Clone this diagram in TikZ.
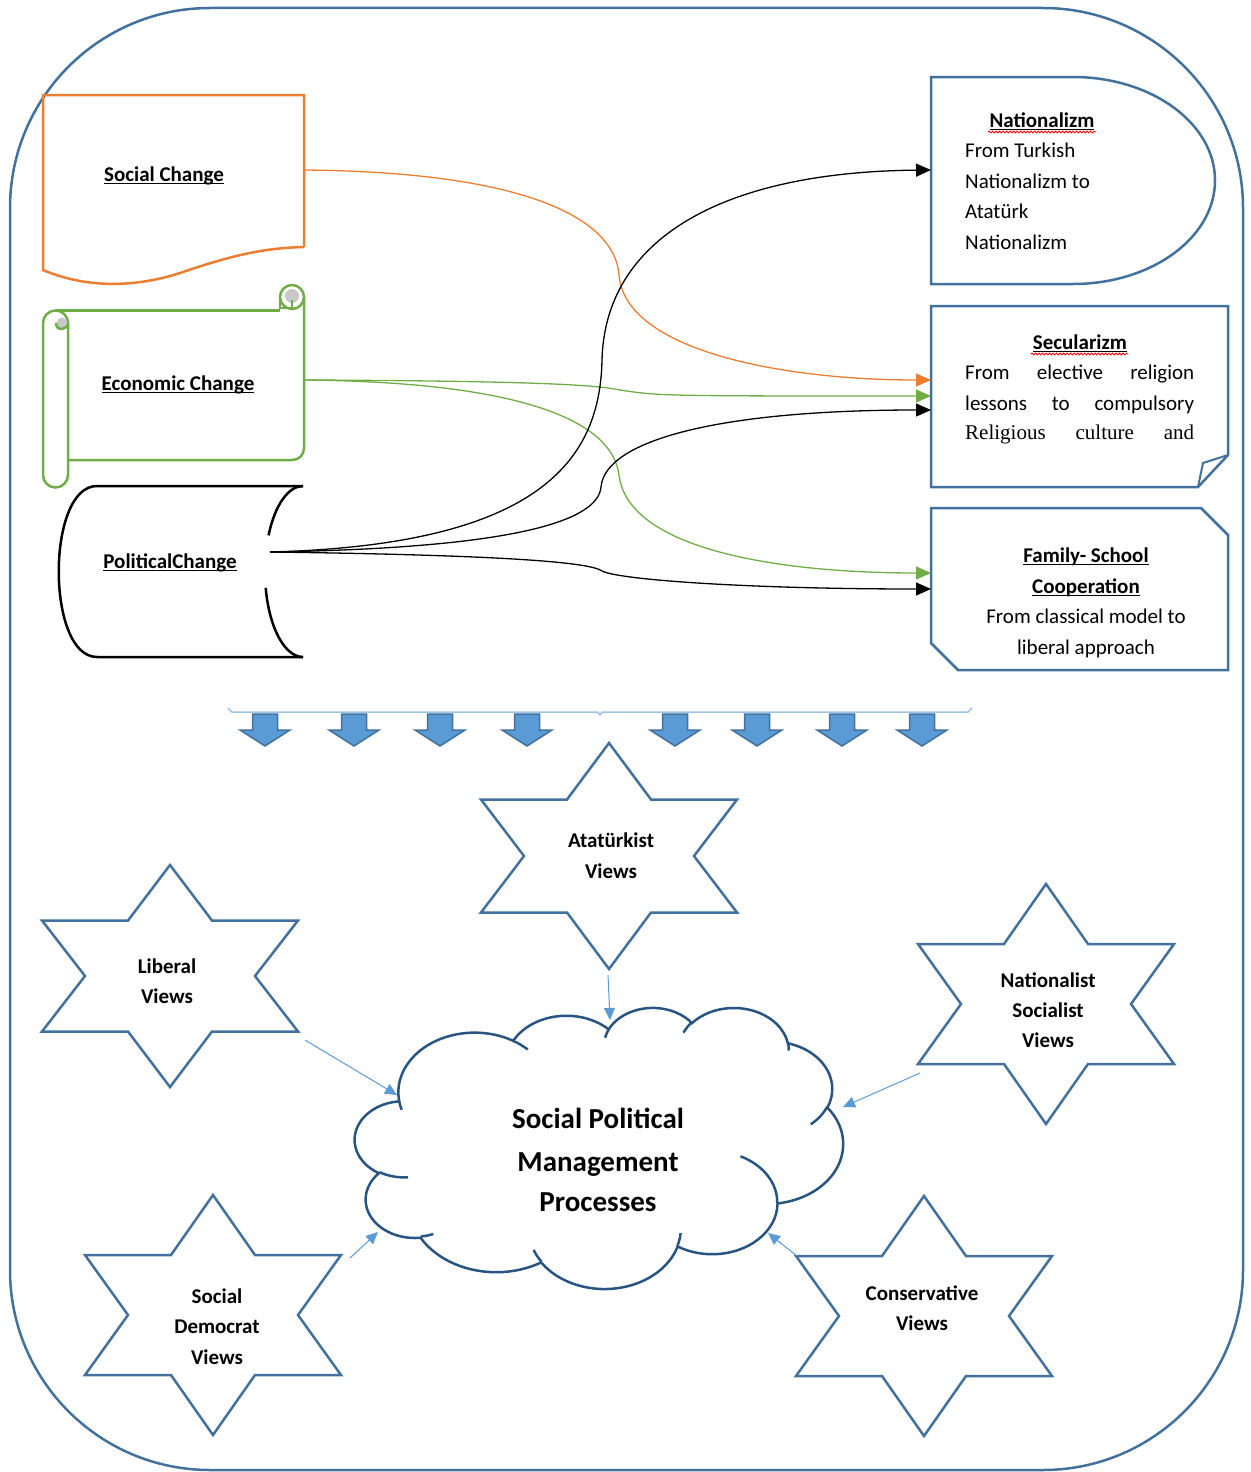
\documentclass[tikz,border=0pt]{standalone}
\usepackage{fontspec}
\setmainfont{Carlito}
\newfontfamily\timesf{Liberation Serif}
\newcommand\undl[1]{\setbox0\hbox{#1}\rlap{\rule[-3pt]{\wd0}{1.3pt}}\box0}
\usetikzlibrary{arrows.meta,decorations.pathmorphing}
\definecolor{frameblue}{RGB}{65,113,156}
\definecolor{cloudblue}{RGB}{40,84,130}
\definecolor{arrowblue}{RGB}{91,155,213}
\definecolor{linkblue}{RGB}{91,155,213}
\definecolor{lineblue}{RGB}{157,195,230}
\definecolor{offorange}{RGB}{237,125,49}
\definecolor{offgreen}{RGB}{112,173,71}
\definecolor{grayroll}{RGB}{200,200,200}
\tikzset{
  tx/.style={inner sep=0pt, anchor=base, font=\fontsize{21}{25}\selectfont},
  txl/.style={tx, anchor=base west},
  ctx/.style={inner sep=0pt, anchor=base, font=\fontsize{29}{35}\selectfont\bfseries},
  frame/.style={draw=frameblue, line width=2.5pt},
  link/.style={line width=1.3pt, -{Triangle[length=15pt,width=13pt]}},
  viewlink/.style={draw=linkblue, line width=1pt, -{Triangle[length=12pt,width=11pt]}},
  starline/.style={draw=frameblue, line width=2.5pt, line join=miter},
  cloudline/.style={draw=cloudblue, line width=2.5pt},
  blockarrow/.style={fill=arrowblue, draw=frameblue, line width=1.5pt, line join=miter},
  spell/.style={draw=red, line width=0.8pt, decorate, decoration={snake, amplitude=1pt, segment length=3.5pt}}
}
\newcommand\hexstar[3]{%
  \draw[starline] (#1,{#2-#3}) -- ({#1+42},{#2-0.5*#3}) -- ({#1+128},{#2-0.5*#3})
    -- ({#1+85},#2) -- ({#1+128},{#2+0.5*#3}) -- ({#1+42},{#2+0.5*#3})
    -- (#1,{#2+#3}) -- ({#1-42},{#2+0.5*#3}) -- ({#1-128},{#2+0.5*#3})
    -- ({#1-85},#2) -- ({#1-128},{#2-0.5*#3}) -- ({#1-42},{#2-0.5*#3}) -- cycle;}
\newcommand\downblk[1]{%
  \draw[blockarrow] ({#1-12.5},714) -- ({#1+12.5},714) -- ({#1+12.5},730) -- ({#1+25},730)
    -- (#1,746) -- ({#1-25},730) -- ({#1-12.5},730) -- cycle;}
\begin{document}
\begin{tikzpicture}[x=1pt,y=-1pt]
\useasboundingbox (0,0) rectangle (1250,1472);
% outer frame
\draw[frame, rounded corners=200pt] (10,8) rectangle (1243,1470);

% ---------- Social Change (wave document)
\draw[draw=offorange, line width=2.5pt, line join=miter]
  (304,247) -- (304,95) -- (43,95) -- (43,270)
  .. controls (90,290) and (140,286) .. (180,273)
  .. controls (230,256) and (262,248) .. (304,247);
\node[tx] (soc) at (164,181) {\bfseries\undl{Social Change}};

% ---------- Economic Change (scroll)
\begin{scope}[draw=offgreen, line width=2.5pt]
\draw (55,310.5) -- (280,310.5);
\draw (304,297) -- (304,448) .. controls (304,455) and (299,460) .. (292,460) -- (68,460);
\draw (292,297) circle (12);
\fill[grayroll] (292,296) circle (7);
\draw (280,297) -- (280,308) -- (292,308) -- (292,300);
\draw (68,323) arc[start angle=0, end angle=-180, radius=12.5]
  -- (43,475) arc[start angle=180, end angle=0, radius=12.5] -- cycle;
\fill[grayroll] (62,323) circle (5.5);
\draw (68,323) .. controls (68,330) and (56,332) .. (56,323);
\end{scope}
\node[tx] (eco) at (178,390) {\bfseries\undl{Economic Change}};

% ---------- Political Change (stored data)
\draw[line width=2.5pt] (303,486) -- (97,486) .. controls (46,486) and (46,657) .. (97,657) -- (303,657);
\draw[line width=2.5pt] (303,486) arc[start angle=270, end angle=205, x radius=38, y radius=85.5];
\draw[line width=2.5pt] (303,657) arc[start angle=90, end angle=169, x radius=38, y radius=85.5];
\node[tx] (pol) at (170,568) {\bfseries\undl{PoliticalChange}};

% ---------- Nationalizm (delay)
\draw[frame] (931,77) -- (1073,77) arc[start angle=-90, end angle=90, x radius=142, y radius=103.5]
  -- (931,284) -- cycle;
\node[tx] (natT) at (1042,127) {\bfseries\undl{Nationalizm}};
\draw[spell] (988,132) -- (1096,132);
\node[txl] (natA) at (965,157) {From Turkish};
\node[txl] (natB) at (965,188) {Nationalizm to};
\node[txl] (natC) at (965,218) {Atatürk};
\node[txl] (natD) at (965,249) {Nationalizm};

% ---------- Secularizm (folded corner)
\draw[frame] (931,306) -- (1228,306) -- (1228,455) -- (1198,487) -- (931,487) -- cycle;
\draw[draw=frameblue, line width=2pt, line join=miter] (1198,487) -- (1203,463) -- (1228,455);
\node[tx] (secT) at (1080,349) {\bfseries\undl{Secularizm}};
\draw[spell] (1031,354) -- (1128,354);
\node[txl] (secA) at (965,379) {\hbox to 229pt{From\hfill elective\hfill religion}};
\node[txl] (secB) at (965,410) {\hbox to 229pt{lessons\hfill to\hfill compulsory}};
\node[txl] (secC) at (965,439) {\hbox to 229pt{\timesf Religious\hfill culture\hfill and}};

% ---------- Family-School (snipped corners)
\draw[frame] (931,508) -- (1201,508) -- (1228,535) -- (1228,670) -- (958,670) -- (931,643) -- cycle;
\node[tx] (famA) at (1086,562) {\bfseries\undl{Family- School}};
\node[tx] (famB) at (1086,593) {\bfseries\undl{Cooperation}};
\node[tx] (famC) at (1086,623) {From classical model to};
\node[tx] (famD) at (1086,654) {liberal approach};

% ---------- connectors top
\coordinate (socOut) at (304,170);
\coordinate (ecoOut) at (304,380);
\coordinate (polOut) at (270,552);
\coordinate (natIn) at (931,170);
\coordinate (secInA) at (931,380);
\coordinate (secInB) at (931,396);
\coordinate (secInC) at (931,410);
\coordinate (famInA) at (931,573);
\coordinate (famInB) at (931,589);

\draw[link, offorange] (socOut) .. controls (530,172) and (615,220) .. (619,275)
   .. controls (625,350) and (780,380) .. (secInA);
\draw[link, offgreen] (ecoOut) .. controls (560,381) and (600,386) .. (620,390)
   .. controls (660,396) .. (secInB);
\draw[link, offgreen] (ecoOut) .. controls (520,382) and (612,420) .. (619,475)
   .. controls (628,550) and (780,573) .. (famInA);
\draw[link, black] (polOut) .. controls (540,545) and (600,460) .. (602,360)
   .. controls (605,240) and (720,172) .. (natIn);
\draw[link, black] (polOut) .. controls (520,548) and (598,520) .. (601,487)
   .. controls (605,440) and (720,410) .. (secInC);
\draw[link, black] (polOut) .. controls (500,555) and (590,562) .. (602,571)
   .. controls (620,580) and (750,589) .. (famInB);

% ---------- arrow row
\draw[draw=lineblue, line width=1.5pt] (228,708) -- (232,712) -- (598,712) -- (600,715) -- (602,712) -- (968,712) -- (972,708);
\downblk{265}\downblk{354}\downblk{440}\downblk{527}
\downblk{675}\downblk{757}\downblk{842}\downblk{922}

% ---------- cloud (Office cloud geometry)
\begin{scope}[shift={(355,1007)}, xscale=0.11296, yscale=0.06505]
\draw[cloudline] (390,1437)
  arc[start angle=172.25, end angle=300.37, x radius=675.3, y radius=919]
  arc[start angle=-152.02, end angle=-45.45, x radius=533.3, y radius=726.7]
  arc[start angle=-153.49, end angle=-37.33, x radius=436.5, y radius=594.5]
  arc[start angle=-139.72, end angle=-10.21, x radius=485.7, y radius=659.5]
  arc[start angle=-74.77, end angle=23.21, x radius=533.3, y radius=727.3]
  arc[start angle=-37.52, end angle=81.86, x radius=677.5, y radius=922]
  arc[start angle=0.46, end angle=121.98, x radius=578.5, y radius=786.7]
  arc[start angle=16.84, end angle=146.22, x radius=675.2, y radius=921.5]
  arc[start angle=58.98, end angle=150.19, x radius=772, y radius=1054.3]
  arc[start angle=83.31, end angle=223.11, x radius=436, y radius=591.8]
  arc[start angle=120.34, end angle=264.11, x radius=434.5, y radius=594.5]
  -- cycle;
\draw[cloudline] (469.3,2617.7) arc[start angle=85.54, end angle=120.34, x radius=434.5, y radius=594.5];
\draw[cloudline] (692.8,3489.9) arc[start angle=68.23, end angle=83.31, x radius=436, y radius=591.8];
\draw[cloudline] (1647.8,3909) arc[start angle=146.22, end angle=158.47, x radius=675.2, y radius=921.5];
\draw[cloudline] (2882.7,3475.1) arc[start angle=4.73, end angle=16.84, x radius=675.2, y radius=921.5];
\draw[cloudline] (3412.9,2295.4) arc[start angle=-64.03, end angle=0.46, x radius=578.5, y radius=786.7];
\draw[cloudline] (4179.8,1535.4) arc[start angle=23.21, end angle=49.64, x radius=533.3, y radius=727.3];
\draw[cloudline] (3832.4,542.6) arc[start angle=-10.21, end angle=0.82, x radius=485.7, y radius=659.5];
\draw[cloudline] (2907.8,395.2) arc[start angle=-156.29, end angle=-139.72, x radius=485.7, y radius=659.5];
\draw[cloudline] (2214.1,472) arc[start angle=-167.72, end angle=-153.49, x radius=436.5, y radius=594.5];
\draw[cloudline] (1400,519.2) arc[start angle=-59.63, end angle=-45.74, x radius=675.3, y radius=919];
\draw[cloudline] (412.7,1578.9) arc[start angle=163.19, end angle=172.25, x radius=675.3, y radius=919];
\end{scope}
\node[ctx] (clA) at (598,1128) {Social Political};
\node[ctx] (clB) at (598,1171) {Management};
\node[ctx] (clC) at (598,1211) {Processes};

% ---------- stars
\hexstar{609}{856}{113}
\node[tx] (ataA) at (611,847) {\bfseries Atatürkist};
\node[tx] (ataB) at (611,878) {\bfseries Views};
\hexstar{170}{976}{111}
\node[tx] (libA) at (167,973) {\bfseries Liberal};
\node[tx] (libB) at (167,1003) {\bfseries Views};
\hexstar{1046}{1004}{120}
\node[tx] (nsA) at (1048,987) {\bfseries Nationalist};
\node[tx] (nsB) at (1048,1017) {\bfseries Socialist};
\node[tx] (nsC) at (1048,1047) {\bfseries Views};
\hexstar{213}{1315}{120}
\node[tx] (sdA) at (217,1303) {\bfseries Social};
\node[tx] (sdB) at (217,1333) {\bfseries Democrat};
\node[tx] (sdC) at (217,1364) {\bfseries Views};
\hexstar{924}{1316}{120}
\node[tx] (coA) at (922,1300) {\bfseries Conservative};
\node[tx] (coB) at (922,1330) {\bfseries Views};

% ---------- connectors to cloud
\coordinate (ataOut) at (608,975);  \coordinate (ataTip) at (610,1020);
\coordinate (libOut) at (305,1040); \coordinate (libTip) at (397,1095);
\coordinate (nsOut) at (920,1073);  \coordinate (nsTip) at (843,1107);
\coordinate (sdOut) at (350,1258);  \coordinate (sdTip) at (378,1232);
\coordinate (coOut) at (797,1256);  \coordinate (coTip) at (768,1233);
\draw[viewlink] (ataOut) -- (ataTip);
\draw[viewlink] (libOut) -- (libTip);
\draw[viewlink] (nsOut) -- (nsTip);
\draw[viewlink] (sdOut) -- (sdTip);
\draw[viewlink] (coOut) -- (coTip);
\end{tikzpicture}
\end{document}
